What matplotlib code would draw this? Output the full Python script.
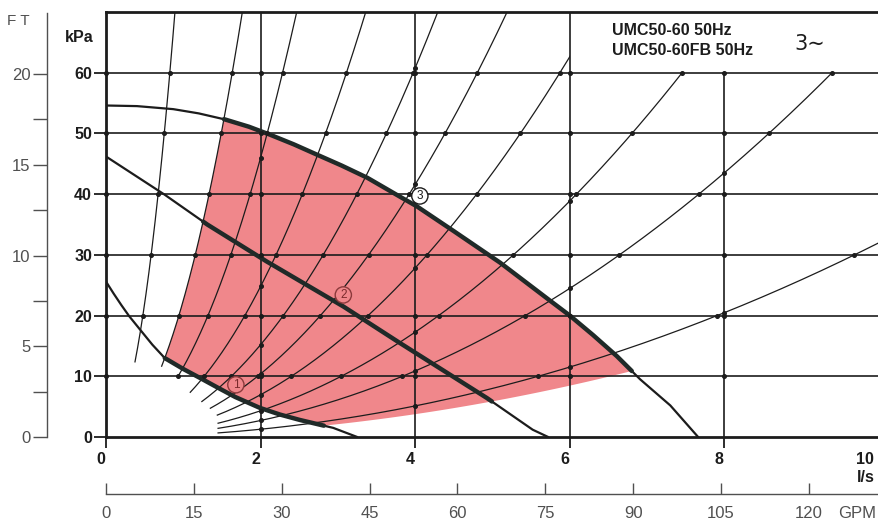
import numpy as np
import matplotlib.pyplot as plt
from matplotlib.patches import Polygon, Rectangle
from matplotlib.transforms import ScaledTranslation

# pump curves (flow l/s, head kPa) for the three speeds
q_speed1 = [0, 0.1, 0.2, 0.3, 0.44, 0.6, 0.76, 1.0, 1.22, 1.45, 1.67, 1.99, 2.25, 2.51, 2.94, 3.25]
h_speed1 = [25.6, 23.6, 21.7, 19.9, 17.7, 15.2, 13.0, 11.2, 9.7, 8.1, 6.6, 4.8, 3.7, 2.8, 1.5, 0]
q_speed2 = [0, 0.76, 1.31, 2.08, 3.07, 3.8, 4.93, 5.52, 5.72]
h_speed2 = [46.2, 39.9, 35.0, 28.9, 21.5, 15.5, 6.4, 1.2, 0]
q_speed3 = [0, 0.4, 0.87, 1.2, 1.54, 1.85, 2.12, 2.43, 2.73, 3.05, 3.38, 3.8, 4.02,
            4.5, 5.1, 5.74, 6.0, 6.3, 6.61, 6.91, 7.3, 7.66]
h_speed3 = [54.6, 54.5, 54.0, 53.3, 52.3, 51.1, 49.8, 48.2, 46.5, 44.7, 42.7, 39.6, 38.0,
            33.9, 28.7, 22.5, 20.0, 16.8, 13.3, 9.5, 5.2, 0]

# system curves h = k*q^2 and the flow where each one begins
sys_k = [88, 22.5, 11.5, 6.2, 3.8, 2.6, 1.74, 1.08, 0.68, 0.32]
sys_q_start = [0.375, 0.72, 0.93, 1.09, 1.24, 1.35, 1.44, 1.45, 1.45, 1.45]

# working range: bounded left and below by these system curves
area_k_left = 22.5
area_k_low = 0.235

speed_labels = ['1', '2', '3']
speed_label_q = [1.68, 3.07, 4.06]
speed_label_h = [8.6, 23.4, 39.7]

kpa_ticks = [0, 10, 20, 30, 40, 50, 60]
ls_ticks = [0, 2, 4, 6, 8, 10]
ft_major = [0, 5, 10, 15, 20]
ft_minor = [2.5, 7.5, 12.5, 17.5]
gpm_ticks = [0, 15, 30, 45, 60, 75, 90, 105, 120]

KPA_PER_FT = 2.989
LS_PER_GPM = 0.075768

INK = '#1c1c1c'
GREY = '#505050'
PINK = '#f0878b'


def crossing(k, q_pts, h_pts):
    qq = np.linspace(0, q_pts[-1], 6000)
    d = k * qq ** 2 - np.interp(qq, q_pts, h_pts)
    return qq[np.argmax(d > 0)]


def part(q_pts, h_pts, q0, q1):
    q_arr = np.asarray(q_pts)
    inside = (q_arr > q0) & (q_arr < q1)
    qs = np.concatenate([[q0], q_arr[inside], [q1]])
    return qs, np.interp(qs, q_pts, h_pts)


fig = plt.figure(figsize=(8.79, 5.23), dpi=100)
W, H = 879, 523
ax = fig.add_axes([106 / W, 86 / H, 773 / W, 425 / H])
ax.set_xlim(0, 10)
ax.set_ylim(0, 70)

# shaded working area
qa = crossing(area_k_left, q_speed1, h_speed1)
qb = crossing(area_k_left, q_speed3, h_speed3)
qc = crossing(area_k_low, q_speed3, h_speed3)
qd = crossing(area_k_low, q_speed1, h_speed1)
ql = np.linspace(qa, qb, 60)
qt, ht = part(q_speed3, h_speed3, qb, qc)
qr = np.linspace(qc, qd, 80)
qbt, hbt = part(q_speed1, h_speed1, qa, qd)
poly_q = np.concatenate([ql, qt, qr, qbt[::-1]])
poly_h = np.concatenate([area_k_left * ql ** 2, ht, area_k_low * qr ** 2, hbt[::-1]])
ax.add_patch(Polygon(np.column_stack([poly_q, poly_h]), closed=True,
                     fc=PINK, ec='none', zorder=1))

# system curves
dots_q, dots_h = [], []
for k, q0 in zip(sys_k, sys_q_start):
    q1 = min(10.0, np.sqrt(70 / k))
    qs = np.linspace(q0, q1, 300)
    ax.plot(qs, k * qs ** 2, color=INK, lw=0.9, zorder=2)
    for hg in range(10, 61, 10):
        qg = np.sqrt(hg / k)
        if q0 <= qg <= 10:
            dots_q.append(qg)
            dots_h.append(hg)
    for qg in [2, 4, 6, 8]:
        hg = k * qg ** 2
        if qg >= q0 and hg <= 70:
            dots_q.append(qg)
            dots_h.append(hg)

# title box in the top right corner
ax.add_patch(Rectangle((6, 60), 4, 10, fc='white', ec='none', zorder=2.5))

# grid
for hg in range(10, 61, 10):
    ax.plot([0, 10], [hg, hg], color=INK, lw=1.2, zorder=3)
for qg in [2, 4, 6]:
    ax.plot([qg, qg], [0, 70], color=INK, lw=1.2, zorder=3)
ax.plot([8, 8], [0, 60], color=INK, lw=1.2, zorder=3)
for qg in [0, 2, 4, 6, 8]:
    for hg in range(10, 61, 10):
        dots_q.append(qg)
        dots_h.append(hg)

keep = [not (q >= 6 and h > 60.5) for q, h in zip(dots_q, dots_h)]
ax.plot(np.array(dots_q)[keep], np.array(dots_h)[keep], 'o', color=INK,
        ms=2.6, zorder=6, clip_on=False)

# pump curves, heavier inside the working area
curves = [(q_speed1, h_speed1), (q_speed2, h_speed2), (q_speed3, h_speed3)]
thick_ranges = [(qa, qd),
                (crossing(area_k_left, q_speed2, h_speed2), crossing(area_k_low, q_speed2, h_speed2)),
                (qb, qc)]
for (qp, hp), (t0, t1) in zip(curves, thick_ranges):
    ax.plot(qp, hp, color=INK, lw=1.6, zorder=5, solid_capstyle='round')
    qs, hs = part(qp, hp, t0, t1)
    ax.plot(qs, hs, color='#202a28', lw=3.2, zorder=5, solid_capstyle='round')

for lab, q, h in zip(speed_labels, speed_label_q, speed_label_h):
    if lab == '3':
        fc, ec, tc = 'white', INK, INK
    else:
        fc, ec, tc = PINK, '#8c3a3c', '#7a2a2c'
    ax.text(q, h, lab, ha='center', va='center', fontsize=8.5, color=tc,
            family='Liberation Sans', zorder=8,
            bbox=dict(boxstyle='circle,pad=0.18', fc=fc, ec=ec, lw=1.0))

ax.text(6.55, 66.9, 'UMC50-60 50Hz', fontsize=11.5, fontweight='bold',
        family='Liberation Sans', ha='left', va='center', color=INK, zorder=8)
ax.text(6.55, 63.6, 'UMC50-60FB 50Hz', fontsize=11.5, fontweight='bold',
        family='Liberation Sans', ha='left', va='center', color=INK, zorder=8)
ax.text(9.1, 64.7, '3\u223c', fontsize=15, family='DejaVu Sans',
        ha='center', va='center', color=INK, zorder=8)

# axes frame and ticks
for side in ['left', 'bottom', 'top']:
    ax.spines[side].set_linewidth(2)
    ax.spines[side].set_color(INK)
    ax.spines[side].set_zorder(7)
ax.spines['right'].set_visible(False)
ax.set_yticks(kpa_ticks)
ax.set_xticks(ls_ticks)
ax.tick_params(axis='y', direction='out', length=9, width=1.3, color=INK, pad=1,
               labelsize=11.5, labelcolor=INK)
ax.tick_params(axis='x', direction='out', length=8, width=1.3, color=INK, pad=3,
               labelsize=11.5, labelcolor=INK)
for t in ax.get_xticklabels() + ax.get_yticklabels():
    t.set_fontweight('bold')
    t.set_family('Liberation Sans')
shift = ScaledTranslation(-5 / 100, 0, fig.dpi_scale_trans)
for t in ax.get_xticklabels():
    t.set_transform(t.get_transform() + shift)
# the last flow label sits against the right edge
ax.get_xticklabels()[-1].set_horizontalalignment('right')
fig.text(79 / W, 1 - 38 / H, 'kPa', fontsize=11.5, fontweight='bold',
         family='Liberation Sans', ha='center', va='center', color=INK)
fig.text(866 / W, 1 - 477 / H, 'l/s', fontsize=11.5, fontweight='bold',
         family='Liberation Sans', ha='center', va='center', color=INK)

# head in feet
ax_ft = fig.add_axes([47 / W, 86 / H, 0.0005, 424 / H])
ax_ft.set_ylim(0, 70 / KPA_PER_FT * 424 / 425)
ax_ft.patch.set_visible(False)
for side in ['right', 'top', 'bottom']:
    ax_ft.spines[side].set_visible(False)
ax_ft.spines['left'].set_color(GREY)
ax_ft.spines['left'].set_linewidth(1)
ax_ft.set_xticks([])
ax_ft.set_yticks(ft_major)
ax_ft.set_yticks(ft_minor, minor=True)
ax_ft.tick_params(axis='y', which='both', direction='out', length=10, width=1,
                  color=GREY, pad=2, labelsize=12, labelcolor=GREY)
for t in ax_ft.get_yticklabels():
    t.set_family('Liberation Sans')
fig.text(7 / W, 1 - 21 / H, 'F T', fontsize=11, family='Liberation Sans',
         ha='left', va='center', color=GREY)

# flow in gallons per minute
ax_g = fig.add_axes([106 / W, 29 / H, 773 / W, 0.0005])
ax_g.set_xlim(0, 10 / LS_PER_GPM)
ax_g.patch.set_visible(False)
for side in ['left', 'right', 'top']:
    ax_g.spines[side].set_visible(False)
ax_g.spines['bottom'].set_color(GREY)
ax_g.spines['bottom'].set_linewidth(1)
ax_g.set_yticks([])
ax_g.set_xticks(gpm_ticks)
ax_g.tick_params(axis='x', direction='in', length=8, width=1, color=GREY,
                 pad=9, labelsize=12, labelcolor=GREY)
for t in ax_g.get_xticklabels():
    t.set_family('Liberation Sans')
fig.text(838 / W, 1 - 514 / H, 'GPM', fontsize=12, family='Liberation Sans',
         ha='left', va='center', color=GREY)

fig.savefig('out.png', dpi=100)
